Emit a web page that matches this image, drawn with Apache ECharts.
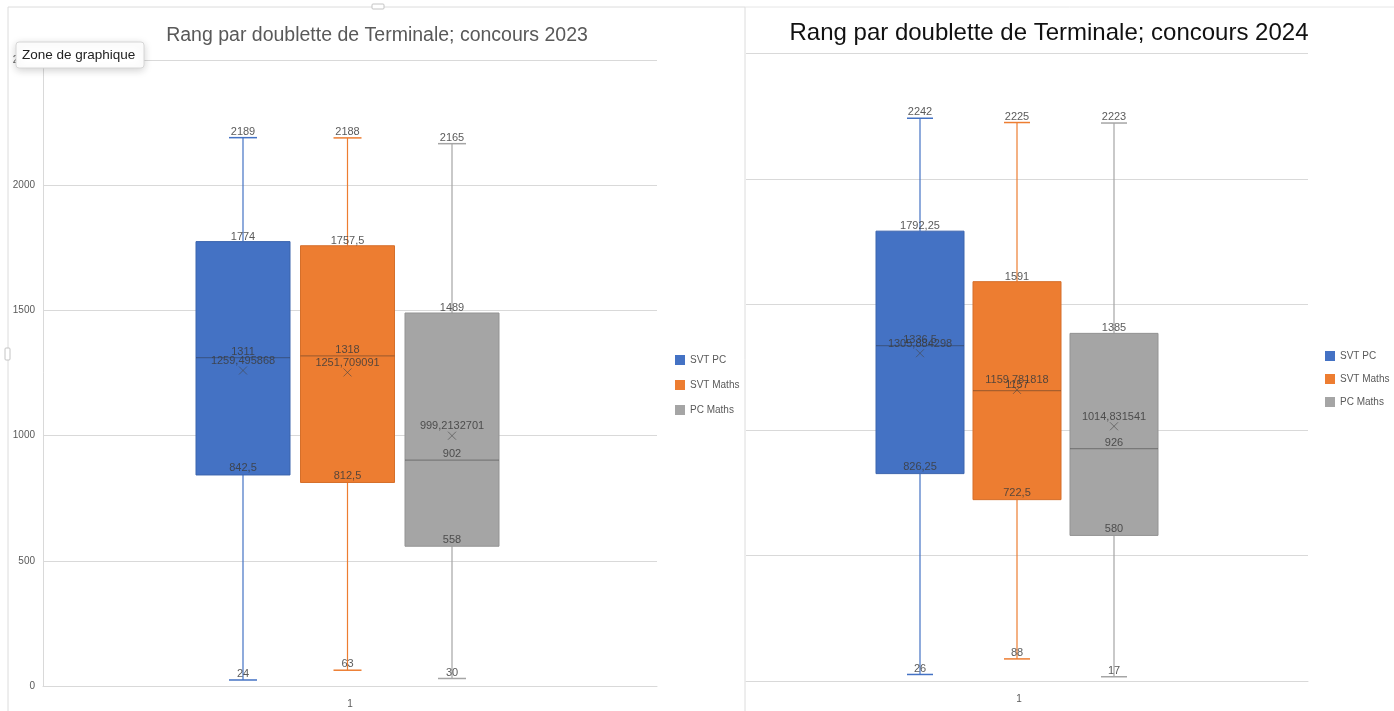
<!DOCTYPE html>
<html>
<head>
<meta charset="utf-8">
<script src="https://cdn.jsdelivr.net/npm/echarts@6/dist/echarts.min.js"></script>
<style>
  html, body { margin: 0; padding: 0; background: #ffffff; }
  #chart { width: 1394px; height: 711px; }
</style>
</head>
<body>
<div id="chart"></div>
<script>
// Categories and series
const categories = ['1'];
const seriesNames = ['SVT PC', 'SVT Maths', 'PC Maths'];

// Concours 2023: five-number summary and mean, one entry per series
const min2023 = [24, 63, 30];
const q1_2023 = [842.5, 812.5, 558];
const median2023 = [1311, 1318, 902];
const q3_2023 = [1774, 1757.5, 1489];
const max2023 = [2189, 2188, 2165];
const mean2023 = [1259.495868, 1251.709091, 999.2132701];

// Concours 2024
const min2024 = [26, 88, 17];
const q1_2024 = [826.25, 722.5, 580];
const median2024 = [1336.5, 1157, 926];
const q3_2024 = [1792.25, 1591, 1385];
const max2024 = [2242, 2225, 2223];
const mean2024 = [1305.884298, 1159.781818, 1014.831541];

// Value axis ticks
const yMin = 0;
const yMax = 2500;
const yStep = 500;

const colors = ['#4472C4', '#ED7D31', '#A5A5A5'];
const edges = ['#3b64ad', '#d56f2a', '#939393'];

const sans = '"Liberation Sans", Arial, sans-serif';
const labelFont = '11px ' + sans;

// Pixel layout of each panel
const layout2023 = { left: 43, top: 59.75, width: 614, height: 626.25, spacing: 104.5, shift: -2.5, boxW: 94, capW: 28 };
const layout2024 = { left: 746, top: 53.5, width: 562, height: 627.5, spacing: 97, shift: -10, boxW: 88, capW: 26 };

const fmt = v => String(v).replace('.', ',');

function boxRenderer(layout, idx, color, edge) {
  return function (params, api) {
    const cat = api.value(0);
    const vMin = api.value(1), vQ1 = api.value(2), vMed = api.value(3),
          vQ3 = api.value(4), vMax = api.value(5), vMean = api.value(6);
    const center = api.coord([cat, 0])[0];
    const cx = center + layout.shift + (idx - 1) * layout.spacing;
    const y = v => api.coord([cat, v])[1];
    const yMinP = y(vMin), yQ1 = y(vQ1), yMed = y(vMed), yQ3 = y(vQ3), yMaxP = y(vMax), yMean = y(vMean);
    const hw = layout.boxW / 2, cw = layout.capW / 2;
    const line = (x1, y1, x2, y2, stroke, w) => ({
      type: 'line', shape: { x1, y1, x2, y2 }, style: { stroke, lineWidth: w }
    });
    const text = (t, ty) => ({
      type: 'text',
      style: { text: t, x: cx, y: ty, align: 'center', verticalAlign: 'bottom', fill: 'rgba(60,60,60,0.85)', font: labelFont }
    });
    const m = 4;
    return {
      type: 'group',
      children: [
        line(cx, yMaxP, cx, yQ3, color, 1.2),
        line(cx, yQ1, cx, yMinP, color, 1.2),
        line(cx - cw, yMaxP, cx + cw, yMaxP, color, 1.5),
        line(cx - cw, yMinP, cx + cw, yMinP, color, 1.5),
        { type: 'rect', shape: { x: cx - hw, y: yQ3, width: hw * 2, height: yQ1 - yQ3 },
          style: { fill: color, stroke: edge, lineWidth: 1 } },
        line(cx - hw, yMed, cx + hw, yMed, 'rgba(40,40,40,0.35)', 1.2),
        line(cx - m, yMean - m, cx + m, yMean + m, 'rgba(70,70,70,0.6)', 1),
        line(cx - m, yMean + m, cx + m, yMean - m, 'rgba(70,70,70,0.6)', 1),
        text(fmt(vMax), yMaxP - 0.5),
        text(fmt(vQ3), yQ3 + 0.5),
        text(fmt(vMed), yMed - 0.5),
        text(fmt(vMean), yMean - 4),
        text(fmt(vQ1), yQ1 - 1),
        text(fmt(vMin), yMinP - 0.5)
      ]
    };
  };
}

function makeSeries(idx, axisIndex, layout, mins, q1s, meds, q3s, maxs, means) {
  return {
    type: 'custom',
    name: seriesNames[idx],
    xAxisIndex: axisIndex,
    yAxisIndex: axisIndex,
    itemStyle: { color: colors[idx] },
    renderItem: boxRenderer(layout, idx, colors[idx], edges[idx]),
    encode: { x: 0, y: [1, 2, 3, 4, 5, 6] },
    data: [[0, mins[idx], q1s[idx], meds[idx], q3s[idx], maxs[idx], means[idx]]],
    silent: true
  };
}

const series = [];
for (let i = 0; i < seriesNames.length; i++) {
  series.push(makeSeries(i, 0, layout2023, min2023, q1_2023, median2023, q3_2023, max2023, mean2023));
}
for (let i = 0; i < seriesNames.length; i++) {
  series.push(makeSeries(i, 1, layout2024, min2024, q1_2024, median2024, q3_2024, max2024, mean2024));
}

const gridLine = { lineStyle: { color: '#d9d9d9', width: 1 } };

const option = {
  animation: false,
  backgroundColor: '#ffffff',
  title: [
    {
      text: 'Rang par doublette de Terminale; concours 2023',
      left: 372, top: 21, textAlign: 'center',
      textStyle: { fontFamily: sans, fontSize: 19.5, fontWeight: 'normal', color: '#595959' }
    },
    {
      text: 'Rang par doublette de Terminale; concours 2024',
      left: 1044, top: 16, textAlign: 'center',
      textStyle: { fontFamily: sans, fontSize: 24, fontWeight: 'normal', color: '#111111' }
    }
  ],
  legend: [
    {
      data: seriesNames, orient: 'vertical', left: 670, top: 350, itemGap: 15,
      itemWidth: 10, itemHeight: 10, icon: 'rect', selectedMode: false,
      textStyle: { fontFamily: sans, fontSize: 10, color: '#595959' }
    },
    {
      data: seriesNames, orient: 'vertical', left: 1320, top: 346, itemGap: 13,
      itemWidth: 10, itemHeight: 10, icon: 'rect', selectedMode: false,
      textStyle: { fontFamily: sans, fontSize: 10, color: '#595959' }
    }
  ],
  grid: [
    { left: layout2023.left, top: layout2023.top, width: layout2023.width, height: layout2023.height },
    { left: layout2024.left, top: layout2024.top, width: layout2024.width, height: layout2024.height }
  ],
  xAxis: [
    {
      type: 'category', gridIndex: 0, data: categories,
      axisLine: { show: true, lineStyle: { color: '#d9d9d9' } }, axisTick: { show: false },
      axisLabel: { fontFamily: sans, fontSize: 10, color: '#595959', margin: 13 }
    },
    {
      type: 'category', gridIndex: 1, data: categories,
      axisLine: { show: true, lineStyle: { color: '#d9d9d9' } }, axisTick: { show: false },
      axisLabel: { fontFamily: sans, fontSize: 10, color: '#595959', margin: 13, padding: [0, 16, 0, 0] }
    }
  ],
  yAxis: [
    {
      type: 'value', gridIndex: 0, min: yMin, max: yMax, interval: yStep,
      axisLine: { show: true, lineStyle: { color: '#d9d9d9' } }, axisTick: { show: false },
      axisLabel: { fontFamily: sans, fontSize: 10, color: '#595959', margin: 8, formatter: v => String(v) },
      splitLine: gridLine
    },
    {
      type: 'value', gridIndex: 1, min: yMin, max: yMax, interval: yStep,
      axisLine: { show: false }, axisTick: { show: false },
      axisLabel: { show: false },
      splitLine: gridLine
    }
  ],
  graphic: [
    // selection frame around the 2023 panel
    { type: 'rect', shape: { x: 8, y: 7, width: 737, height: 712 }, style: { fill: 'none', stroke: '#dcdcdc', lineWidth: 1 }, z: 1 },
    { type: 'rect', shape: { x: 372, y: 4, width: 12, height: 5, r: 1 }, style: { fill: '#ffffff', stroke: '#c4c4c4', lineWidth: 1 }, z: 2 },
    { type: 'rect', shape: { x: 5, y: 348, width: 5, height: 12, r: 1 }, style: { fill: '#ffffff', stroke: '#c4c4c4', lineWidth: 1 }, z: 2 },
    { type: 'line', shape: { x1: 745, y1: 7, x2: 1394, y2: 7 }, style: { stroke: '#e6e6e6', lineWidth: 1 }, z: 1 },
    // hover tip over the chart area
    { type: 'rect', shape: { x: 16, y: 42, width: 128, height: 26, r: 3 }, z: 100, zlevel: 1,
      style: { fill: '#ffffff', stroke: '#d6d6d6', lineWidth: 1, shadowBlur: 8, shadowColor: 'rgba(0,0,0,0.18)', shadowOffsetY: 2 } },
    { type: 'text', z: 101, zlevel: 1,
      style: { text: 'Zone de graphique', x: 22, y: 55, verticalAlign: 'middle', fill: '#222222', font: '13.5px ' + sans } }
  ],
  series: series
};

const chart = echarts.init(document.getElementById('chart'), null, { renderer: 'canvas' });
chart.setOption(option);
</script>
</body>
</html>
